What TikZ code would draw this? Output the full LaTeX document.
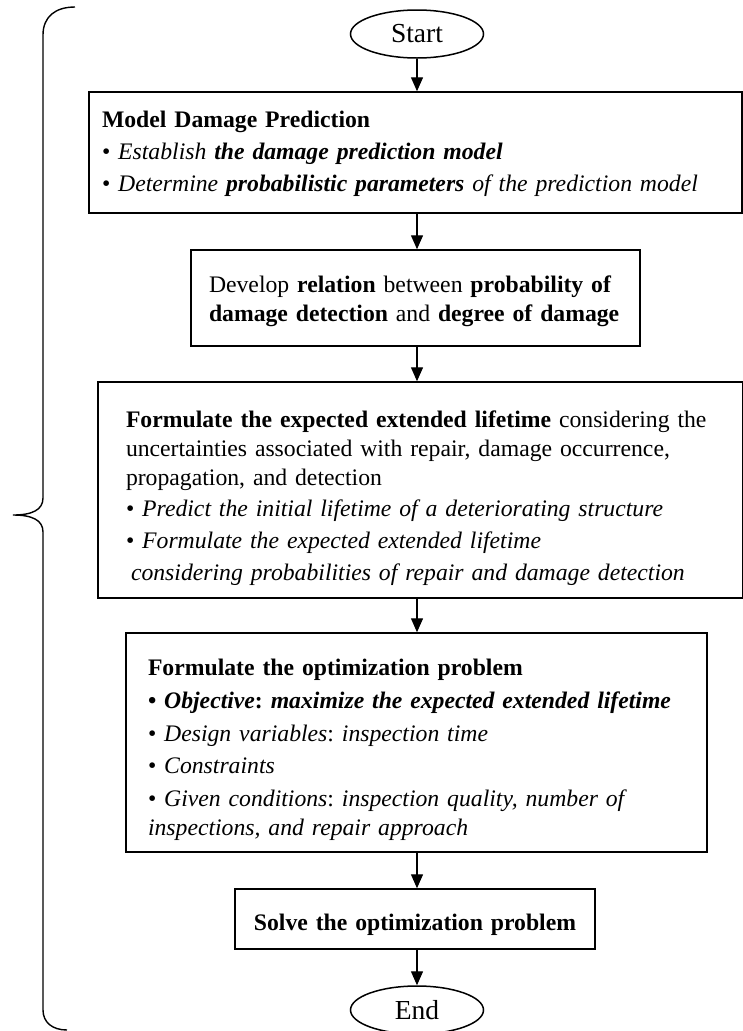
\documentclass[tikz,border=0pt]{standalone}
\usepackage{fontspec}
\setmainfont{Liberation Serif}
\usetikzlibrary{shapes.geometric,arrows.meta}
\begin{document}
\begin{tikzpicture}[x=1pt,y=-1pt,
  every node/.style={font=\fontsize{23.7}{29}\selectfont\frenchspacing},
  box/.style={draw, line width=1.5pt, align=left, inner ysep=0pt},
  term/.style={draw, ellipse, line width=1.5pt, minimum width=133pt, minimum height=48pt, inner sep=0pt,
    font=\fontsize{27.5}{32}\selectfont},
  flow/.style={-{Triangle[length=14pt,width=12pt]}, line width=1.4pt},
  bracket/.style={line width=1.4pt}]
\useasboundingbox (0,0) rectangle (743,1031);

\node[term] (start) at (417,34) {Start};

\node[box, minimum width=653pt, minimum height=121pt, inner xsep=13pt, text width=627pt] (b1) at (415.5,152.5)
 {\rule{0pt}{19pt}\textbf{Model Damage Prediction}\\[3pt]
  • \textit{Establish \textbf{the damage prediction model}}\\[3pt]
  • \textit{Determine \textbf{probabilistic parameters} of the prediction model}};

\node[box, minimum width=449pt, minimum height=96pt, inner xsep=18pt, text width=413pt] (b2) at (415.5,298)
 {\rule{0pt}{23pt}\mbox{Develop \textbf{relation} between \textbf{probability of}}\\
  \mbox{\textbf{damage detection} and \textbf{degree of damage}}};

\node[box, minimum width=645pt, minimum height=216pt, inner xsep=28pt, text width=589pt] (b3) at (420.5,490)
 {\rule{0pt}{34pt}\mbox{\textbf{Formulate the expected extended lifetime} considering the}\\
  \mbox{uncertainties associated with repair, damage occurrence,}\\
  propagation, and detection\\[2pt]
  \mbox{• \textit{Predict the initial lifetime of a deteriorating structure}}\\[3pt]
  • \textit{Formulate the expected extended lifetime}\\[3pt]
  \hspace*{5pt}\mbox{\textit{considering probabilities of repair and damage detection}}};

\node[box, minimum width=581pt, minimum height=219pt, inner xsep=22pt, text width=537pt] (b4) at (416.5,742.5)
 {\rule{0pt}{32pt}\textbf{Formulate the optimization problem}\\[4pt]
  \mbox{\textbf{• \textit{Objective}: \textit{maximize the expected extended lifetime}}}\\[4pt]
  • \textit{Design variables}: \textit{inspection time}\\[3pt]
  • \textit{Constraints}\\[4pt]
  \mbox{• \textit{Given conditions}: \textit{inspection quality, number of}}\\
  \textit{inspections, and repair approach}};

\node[box, align=center, minimum width=360pt, minimum height=60pt, inner xsep=15pt, text width=330pt] (b5) at (415,919)
 {\rule{0pt}{28pt}\textbf{Solve the optimization problem}};

\node[term] (end) at (417,1010) {End};

\draw[flow] (start.south) -- (start.south |- b1.north);
\draw[flow] (start.south |- b1.south) -- (start.south |- b2.north);
\draw[flow] (start.south |- b2.south) -- (start.south |- b3.north);
\draw[flow] (start.south |- b3.south) -- (start.south |- b4.north);
\draw[flow] (start.south |- b4.south) -- (start.south |- b5.north);
\draw[flow] (start.south |- b5.south) -- (end.north);

\draw[bracket] (75,7) .. controls (55,7) and (43,17) .. (43,35) -- (43,498)
  .. controls (43,510) and (32,515) .. (13,515)
  .. controls (32,515) and (43,520) .. (43,532) -- (43,1010)
  .. controls (43,1022) and (52,1030) .. (67,1030);
\end{tikzpicture}
\end{document}
